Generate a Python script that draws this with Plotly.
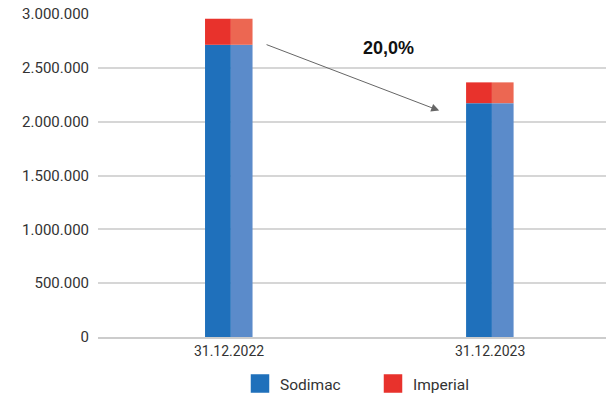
import plotly.graph_objects as go

# Data
periods = ["31.12.2022", "31.12.2023"]
sodimac = [2714000, 2172000]
imperial = [242000, 193000]
change_label = "20,0%"
tick_vals = [0, 500000, 1000000, 1500000, 2000000, 2500000, 3000000]
tick_text = ["0", "500.000", "1.000.000", "1.500.000", "2.000.000", "2.500.000", "3.000.000"]

blue_dark, blue_light = "#1f70bb", "#5b8bca"
red_dark, red_light = "#e8322c", "#ec6752"

FONT = "Roboto"
TEXT = "#333333"

# bar halves: left (darker shade) and right (lighter shade)
left_off, left_w = -0.092, 0.099
right_off, right_w = 0.007, 0.083

fig = go.Figure()
fig.add_bar(x=periods, y=sodimac, offset=left_off, width=left_w,
            marker=dict(color=blue_dark, line_width=0), showlegend=False, hoverinfo="skip")
fig.add_bar(x=periods, y=sodimac, offset=right_off, width=right_w,
            marker=dict(color=blue_light, line_width=0), showlegend=False, hoverinfo="skip")
fig.add_bar(x=periods, y=imperial, base=sodimac, offset=left_off, width=left_w,
            marker=dict(color=red_dark, line_width=0), showlegend=False, hoverinfo="skip")
fig.add_bar(x=periods, y=imperial, base=sodimac, offset=right_off, width=right_w,
            marker=dict(color=red_light, line_width=0), showlegend=False, hoverinfo="skip")

# legend entries
for name, col in [("Sodimac", blue_dark), ("Imperial", red_dark)]:
    fig.add_scatter(x=[None], y=[None], mode="markers", name=name,
                    marker=dict(symbol="square", size=16, color=col,
                                line=dict(color=col, width=2.5)))

totals = [s + i for s, i in zip(sodimac, imperial)]

# arrow showing the change between the two totals
fig.add_annotation(x=0.805, y=totals[1] - 262000, ax=0.138, ay=totals[0] - 235000,
                   xref="x", yref="y", axref="x", ayref="y",
                   showarrow=True, arrowhead=2, arrowsize=1.6, arrowwidth=1,
                   arrowcolor="#666666", text="")
fig.add_annotation(x=0.61, y=2680000, xref="x", yref="y", text="<b>" + change_label + "</b>",
                   showarrow=False, font=dict(family="Liberation Sans", size=18, color="#111111"))

fig.update_layout(
    barmode="overlay",
    width=606, height=395,
    margin=dict(l=98, r=0, t=14, b=58),
    paper_bgcolor="white", plot_bgcolor="white",
    font=dict(family=FONT, size=14, color=TEXT),
    legend=dict(orientation="h", x=240 / 606, xanchor="left", xref="container",
                y=11 / 395, yanchor="middle", yref="container",
                font=dict(family=FONT, size=15.5, color=TEXT), itemwidth=30,
                entrywidth=88, traceorder="normal"),
    xaxis=dict(type="category", range=[-0.502, 1.444], showgrid=False,
               showline=True, linecolor="#cccccc", linewidth=2,
               ticks="", tickfont=dict(size=14)),
    yaxis=dict(range=[0, 3000000], tickvals=tick_vals, ticktext=tick_text,
               showgrid=True, gridcolor="#d6d6d6", gridwidth=2,
               zeroline=False, ticks="", ticklabelstandoff=8,
               tickfont=dict(size=15)),
)

fig.write_html("out.html")
